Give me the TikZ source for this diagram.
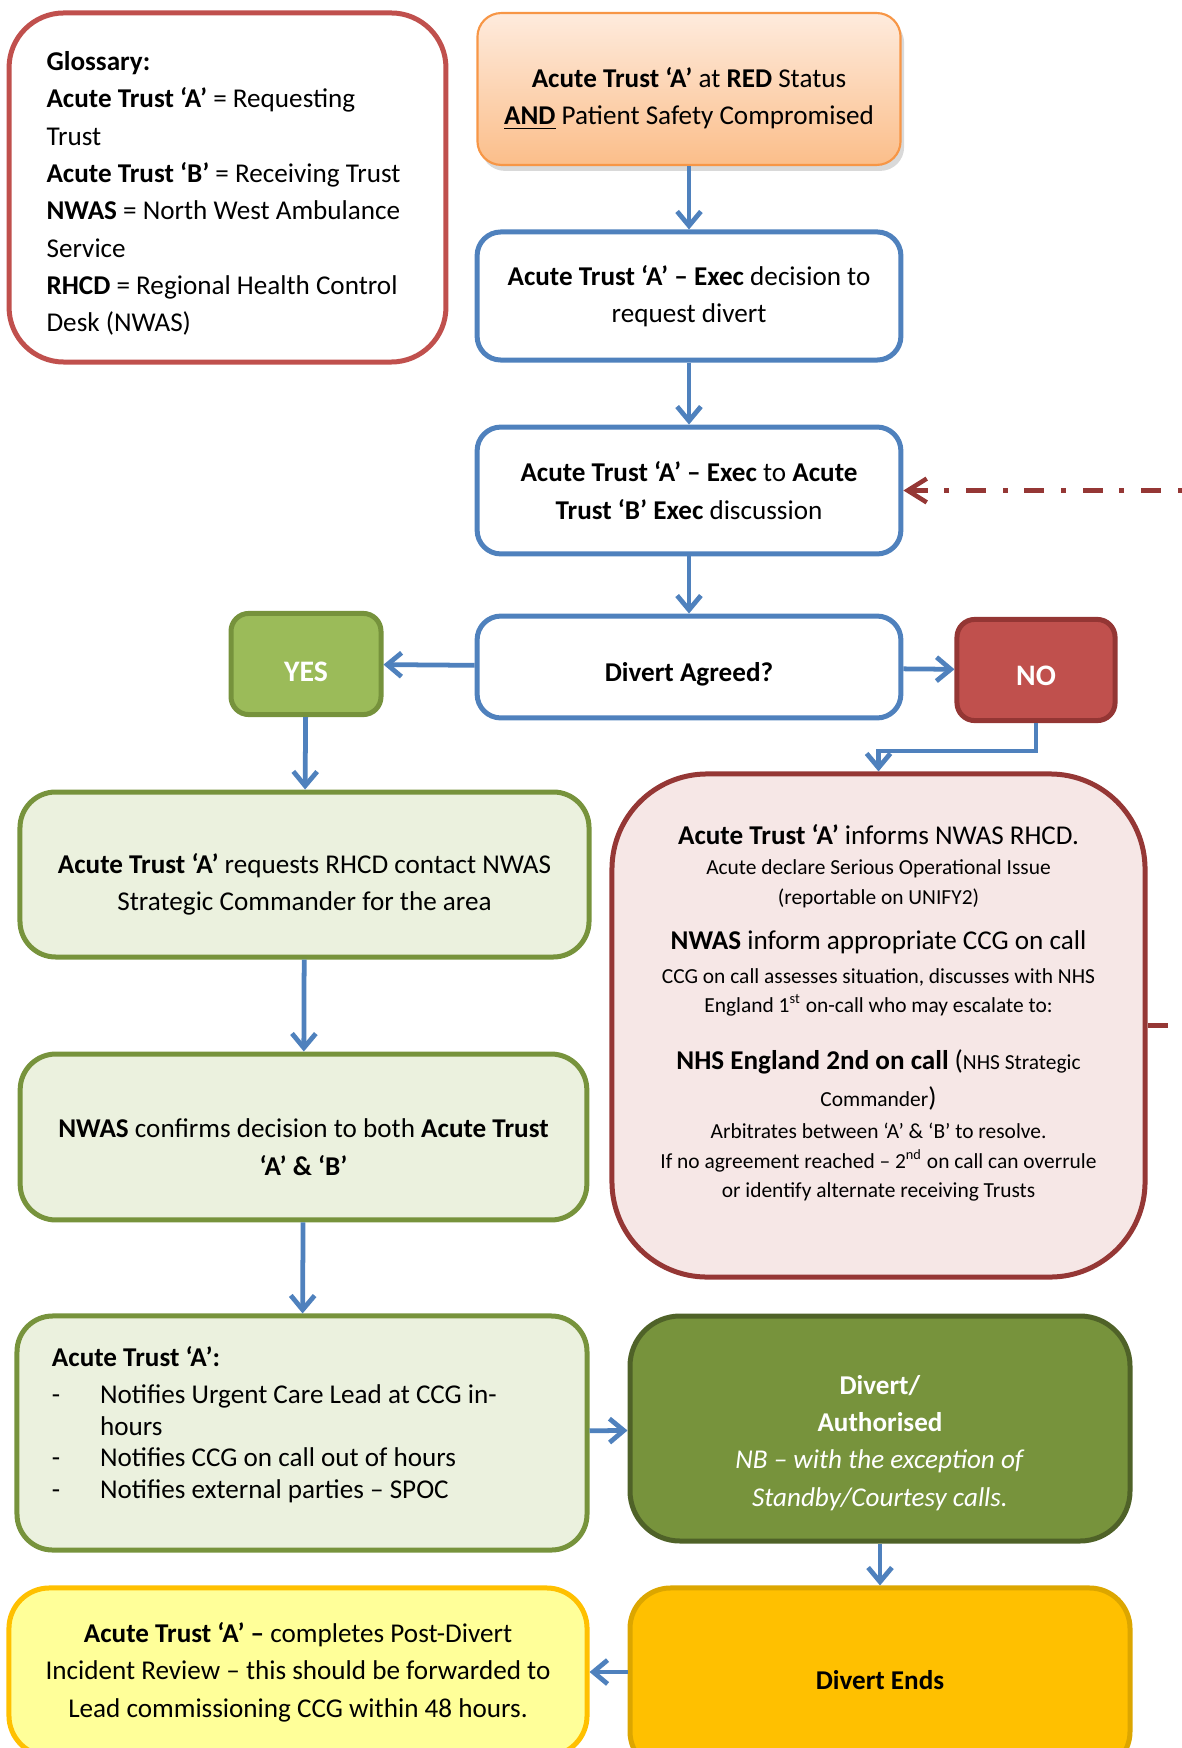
\documentclass[tikz,border=0pt]{standalone}
\usepackage{fontspec}
\setmainfont{Carlito}
\usetikzlibrary{arrows.meta,shadows}

\definecolor{flowblue}{HTML}{4F81BD}
\definecolor{glossred}{HTML}{C0504D}
\definecolor{startedge}{HTML}{F79646}
\definecolor{starttop}{HTML}{FEEBDD}
\definecolor{startbottom}{HTML}{FBBE8A}
\definecolor{yesfill}{HTML}{9BBB59}
\definecolor{yesedge}{HTML}{76923C}
\definecolor{nofill}{HTML}{C0504D}
\definecolor{noedge}{HTML}{943634}
\definecolor{palegreen}{HTML}{EBF1DE}
\definecolor{olivegreen}{HTML}{77933C}
\definecolor{pinkfill}{HTML}{F6E7E6}
\definecolor{darkred}{HTML}{953735}
\definecolor{authedge}{HTML}{4F6228}
\definecolor{goldfill}{HTML}{FFC000}
\definecolor{goldedge}{HTML}{DCA600}
\definecolor{paleyellow}{HTML}{FFFF99}

\newcommand\smalltxt{\fontsize{9}{12.2}\selectfont}

\tikzset{
  glossbox/.style={draw=glossred, line width=2.1pt, rounded corners=23pt, minimum height=146.6pt, text width=152pt, inner xsep=15.75pt, align=left},
  startbox/.style={draw=startedge, line width=0.9pt, rounded corners=10pt, top color=starttop, bottom color=startbottom, drop shadow={opacity=0.3, shadow xshift=1.5pt, shadow yshift=-2.5pt}, minimum width=177.7pt, minimum height=63.8pt, align=center},
  bluebox/.style={draw=flowblue, line width=2.1pt, fill=white, rounded corners=10pt, minimum width=178pt, align=center},
  answerbox/.style={line width=2.1pt, rounded corners=7.5pt, text=white, font=\fontsize{12.5}{15}\selectfont\bfseries, minimum height=42.5pt},
  greenbox/.style={draw=olivegreen, fill=palegreen, line width=2.1pt, rounded corners=15pt, align=center},
  flow/.style={draw=flowblue, line width=2pt, -{Straight Barb[length=6pt,width=10pt]}},
  loopback/.style={draw=darkred, line width=1.9pt, dash pattern=on 8.4pt off 7pt on 2.1pt off 7pt, -{Straight Barb[length=8pt,width=10pt]}}
}

\begin{document}
\begin{tikzpicture}[x=0.42pt, y=-0.42pt, font=\fontsize{11.4}{15.7}\selectfont]
\useasboundingbox (0,0) rectangle (1182,1748);

\path (227.5,187.5) node[glossbox](gloss){\spaceskip=0pt\xspaceskip=0pt\rule{0pt}{13pt}\textbf{Glossary:}\\ \textbf{Acute Trust ‘A’} = Requesting\\ Trust\\ \textbf{Acute Trust ‘B’} = Receiving Trust\\ \textbf{NWAS} = North West Ambulance\\ Service\\ \textbf{RHCD} = Regional Health Control\\ Desk (NWAS)}
 (689,89) node[startbox](start){\rule{0pt}{16.5pt}\textbf{Acute Trust ‘A’} at \textbf{RED} Status\\ \underline{\textbf{AND}} Patient Safety Compromised}
 (689,296) node[bluebox, minimum height=53.8pt](exec){\textbf{Acute Trust ‘A’ – Exec} decision to\\ request divert}
 (689,490.5) node[bluebox, minimum height=53.3pt](discuss){\textbf{Acute Trust ‘A’ – Exec} to \textbf{Acute}\\ \textbf{Trust ‘B’ Exec} discussion}
 (689,667) node[bluebox, minimum height=42.8pt](agreed){\rule{0pt}{14.5pt}\textbf{Divert Agreed?}}
 (306,664) node[answerbox, fill=yesfill, draw=yesedge, minimum width=63pt](yes){\rule{0pt}{14.5pt}YES}
 (1036,670) node[answerbox, fill=nofill, draw=noedge, minimum width=66.4pt](no){\rule{0pt}{13pt}NO}
 (304.5,874.5) node[greenbox, minimum width=239pt, minimum height=69.3pt](request){\rule{0pt}{16.5pt}\textbf{Acute Trust ‘A’} requests RHCD contact NWAS\\ Strategic Commander for the area}
 (303.5,1137) node[greenbox, minimum width=238pt, minimum height=69.7pt](confirm){\rule{0pt}{16.5pt}\textbf{NWAS} confirms decision to both \textbf{Acute Trust}\\ \textbf{‘A’ \& ‘B’}}
 (302,1433) node[greenbox, minimum height=98.3pt, text width=210pt, inner xsep=14.7pt, align=left, font=\fontsize{11.4}{13.3}\selectfont](notify){\spaceskip=0pt\xspaceskip=0pt\textbf{Acute Trust ‘A’:}\\[2.4pt] \makebox[20.2pt][l]{-}Notifies Urgent Care Lead at CCG in-\\ \hspace*{20.2pt}hours\\ \makebox[20.2pt][l]{-}Notifies CCG on call out of hours\\ \makebox[20.2pt][l]{-}Notifies external parties – SPOC\rule[-9pt]{0pt}{9pt}}
 (878.5,1025.5) node[draw=darkred, fill=pinkfill, line width=2.1pt, rounded corners=40pt, minimum width=223.9pt, minimum height=211.3pt, align=center, font=\fontsize{11.4}{12.2}\selectfont](pink){\textbf{Acute Trust ‘A’} informs NWAS RHCD.\\[0.4pt]
  {\smalltxt Acute declare Serious Operational Issue}\\[0.4pt]
  {\smalltxt (reportable on UNIFY2)}\\[6.7pt]
  \textbf{NWAS} inform appropriate CCG on call\\[2.1pt]
  {\smalltxt CCG on call assesses situation, discusses with NHS}\\
  {\smalltxt England 1\textsuperscript{st} on-call who may escalate to:}\\[11.7pt]
  \textbf{NHS England 2nd on call} ({\smalltxt NHS Strategic}\\[3.4pt]
  {\smalltxt Commander})\\[1.3pt]
  {\smalltxt Arbitrates between ‘A’ \& ‘B’ to resolve.}\\[0.4pt]
  {\smalltxt If no agreement reached – 2\textsuperscript{nd} on call can overrule}\\[0pt]
  {\smalltxt or identify alternate receiving Trusts}\rule[-12pt]{0pt}{12pt}}
 (880,1428.5) node[draw=authedge, fill=olivegreen, text=white, line width=2.1pt, rounded corners=21pt, minimum width=210pt, minimum height=94.5pt, align=center](auth){\rule{0pt}{20pt}\textbf{Divert/}\\ \textbf{Authorised}\\ \textit{NB – with the exception of}\\ \textit{Standby/Courtesy calls.}}
 (880,1680) node[draw=goldedge, fill=goldfill, line width=2.1pt, rounded corners=17pt, minimum width=210pt, minimum height=77.3pt](ends){\textbf{Divert Ends}}
 (298,1672) node[draw=goldfill, fill=paleyellow, line width=2.1pt, rounded corners=17pt, minimum width=242.8pt, minimum height=70.6pt, align=center](review){\textbf{Acute Trust ‘A’ –} completes Post-Divert\\ Incident Review – this should be forwarded to\\ Lead commissioning CCG within 48 hours.};

\draw[flow] (start) -- (exec);
\draw[flow] (exec) -- (discuss);
\draw[flow] (discuss) -- (agreed);
\draw[flow] (agreed) -- (yes);
\draw[flow] (agreed) -- (no);
\draw[flow] (no.south) -- ++(0,28) -| (pink.north);
\draw[flow] (yes) -- (request);
\draw[flow] (request) -- (confirm);
\draw[flow] (confirm) -- (notify);
\draw[flow] (notify) -- (auth);
\draw[flow] (auth) -- (ends);
\draw[flow] (ends.west |- review.east) -- (review.east);
\draw[loopback] (pink.east) -- ++(60,0) |- (discuss.east);
\end{tikzpicture}
\end{document}
